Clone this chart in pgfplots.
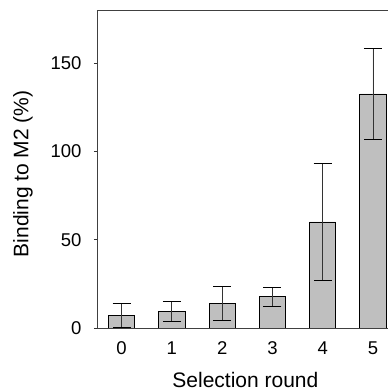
\documentclass[border=0pt]{standalone}
\usepackage{fontspec}
\setmainfont{Liberation Sans}
\usepackage{pgfplots}
\pgfplotsset{compat=1.18}
\begin{document}
\begin{tikzpicture}
\begin{axis}[name=ax,
  scale only axis, width=291pt, height=318pt,
  xmin=-0.49, xmax=5.3, ymin=0, ymax=180,
  axis x line=box, axis y line=left,
  axis line style={-, draw=black!75, line width=0.6pt},
  xtick={0,1,2,3,4,5}, xticklabels={0,1,2,3,4,5},
  major x tick style={draw=none},
  extra x ticks={0.5,1.5,2.5,3.5,4.5}, extra x tick labels={},
  extra x tick style={tick pos=bottom, tick align=inside, major tick length=6pt, major tick style={draw=black!80, line width=0.6pt}},
  ytick={0,50,100,150},
  ytick pos=left, ytick align=outside, major tick length=3pt,
  ytick style={draw=black!80, line width=0.6pt},
  /pgf/number format/assume math mode=true,
  tick label style={font=\fontsize{18.5}{21}\selectfont},
  xticklabel style={anchor=center, yshift=-20pt},
  yticklabel style={xshift=-9pt},
  xlabel={Selection round}, ylabel={Binding to M2 (\%)},
  label style={font=\fontsize{21}{24}\selectfont},
  xlabel style={anchor=center, at={([yshift=-52pt]rel axis cs:0.51,0)}},
  ylabel style={anchor=center, at={([xshift=-74pt]rel axis cs:0,0.485)}},
]
\addplot[ybar, bar width=0.52, fill=black!25, draw=black, line width=0.8pt,
  error bars/.cd, y dir=both, y explicit,
  error bar style={draw=black!80, line width=0.8pt},
  error mark options={rotate=90, mark size=9pt, line width=1.1pt, draw=black}]
  coordinates {
  (0,7) +- (0,6.8)
  (1,9.3) +- (0,5.6)
  (2,13.7) +- (0,9.6)
  (3,17.7) +- (0,5.4)
  (4,60) +- (0,33)
  (5,132.5) +- (0,25.7)
  };
\end{axis}
\pgfresetboundingbox
\useasboundingbox ([shift={(-97pt,-63pt)}]ax.south west) rectangle ([shift={(0pt,10pt)}]ax.north east);
\end{tikzpicture}
\end{document}
